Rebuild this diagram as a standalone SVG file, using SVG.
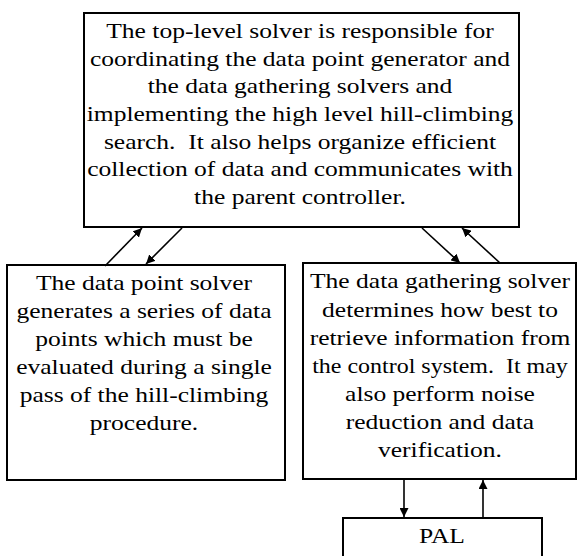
<svg xmlns="http://www.w3.org/2000/svg" width="577" height="556" viewBox="0 0 577 556">
<defs>
<style>
.box{fill:#fff;stroke:#000;stroke-width:2}
.t{font-family:"Liberation Serif","Times New Roman",serif;font-size:22px;fill:#000;text-anchor:middle}
.pre{white-space:pre}
.c{stroke:#000;stroke-width:1.6;fill:none;marker-end:url(#ah)}
</style>
<marker id="ah" viewBox="0 0 10 10" refX="10" refY="5" markerWidth="9" markerHeight="9" markerUnits="userSpaceOnUse" orient="auto">
<path d="M0,0 L10,5 L0,10 z" fill="#000"/>
</marker>
</defs>
<rect width="577" height="556" fill="#fff"/>
<g id="top-solver">
<rect class="box" x="84" y="13" width="435" height="214"/>
<g class="t" transform="translate(300,0) scale(1.16,1)">
<text x="0" y="38">The top-level solver is responsible for</text>
<text x="0" y="66">coordinating the data point generator and</text>
<text x="0" y="93">the data gathering solvers and</text>
<text x="0" y="121">implementing the high level hill-climbing</text>
<text class="pre" xml:space="preserve" x="0" y="149">search.  It also helps organize efficient</text>
<text x="0" y="176">collection of data and communicates with</text>
<text x="0" y="204">the parent controller.</text>
</g>
</g>
<g id="data-point-solver">
<rect class="box" x="7" y="265" width="278" height="215"/>
<g class="t" transform="translate(144,0) scale(1.16,1)">
<text x="0" y="290">The data point solver</text>
<text x="0" y="318">generates a series of data</text>
<text x="0" y="346">points which must be</text>
<text x="0" y="374">evaluated during a single</text>
<text x="0" y="402">pass of the hill-climbing</text>
<text x="0" y="430">procedure.</text>
</g>
</g>
<g id="data-gathering-solver">
<rect class="box" x="303" y="263" width="273" height="216"/>
<g class="t" transform="translate(440,0) scale(1.16,1)">
<text x="0" y="288">The data gathering solver</text>
<text x="0" y="317">determines how best to</text>
<text x="0" y="345">retrieve information from</text>
<text x="0" y="401">also perform noise</text>
<text x="0" y="429">reduction and data</text>
<text x="0" y="457">verification.</text>
</g>
<text class="t pre" xml:space="preserve" x="0" y="373" transform="translate(440,0) scale(1.09,1)">the control system.  It may</text>
</g>
<g id="pal">
<rect class="box" x="343" y="518" width="199" height="50"/>
<text class="t" x="0" y="543" transform="translate(442,0) scale(1.16,1)">PAL</text>
</g>
<g id="connectors">
<line class="c" x1="105" y1="266" x2="142" y2="228"/>
<line class="c" x1="182" y1="228" x2="146" y2="264"/>
<line class="c" x1="422" y1="228" x2="460" y2="263"/>
<line class="c" x1="500" y1="263" x2="462" y2="228"/>
<line class="c" x1="404" y1="480" x2="404" y2="517"/>
<line class="c" x1="483" y1="518" x2="483" y2="480"/>
</g>
</svg>
